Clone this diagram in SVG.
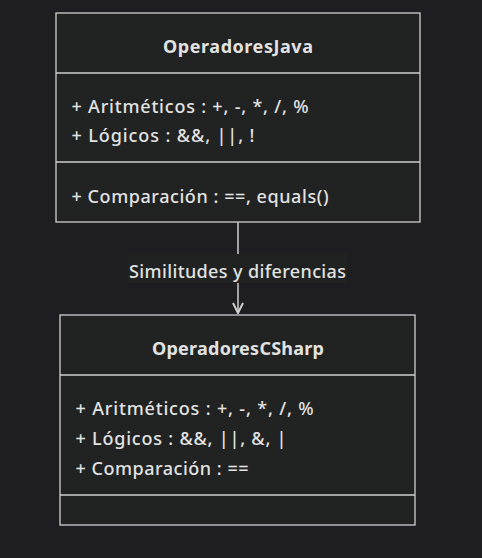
<svg xmlns="http://www.w3.org/2000/svg" width="482" height="558" viewBox="0 0 482 558">
  <style>
    .bg { fill: #1e1e22; }
    .box { fill: #212222; stroke: #cfcfcf; stroke-width: 1.3; }
    .div { stroke: #cfcfcf; stroke-width: 1.3; }
    text { font-family: "Noto Sans", "Open Sans", "DejaVu Sans", sans-serif; fill: #e2e2e2; font-size: 18px; font-weight: 500; }
    .title { font-weight: bold; text-anchor: middle; }
    .edge { stroke: #cfcfcf; stroke-width: 1.5; fill: none; }
    .lblbg { fill: #202221; }
  </style>
  <defs>
    <marker id="arrow" viewBox="0 0 12 12" refX="11" refY="6" markerWidth="12" markerHeight="12" markerUnits="userSpaceOnUse" orient="auto">
      <path d="M1,1 L11,6 L1,11" fill="none" stroke="#cfcfcf" stroke-width="2"/>
    </marker>
  </defs>
  <rect class="bg" x="0" y="0" width="482" height="558"/>

  <g id="connectors">
    <path class="edge" d="M238,222 L238,313" marker-end="url(#arrow)"/>
    <rect class="lblbg" x="128" y="254" width="219" height="29"/>
    <text x="129" y="278" textLength="217" lengthAdjust="spacing">Similitudes y diferencias</text>
  </g>

  <g id="OperadoresJava">
    <rect class="box" x="56" y="13" width="364" height="209"/>
    <line class="div" x1="56" y1="73" x2="420" y2="73"/>
    <line class="div" x1="56" y1="162" x2="420" y2="162"/>
    <text class="title" x="238" y="53" textLength="150" lengthAdjust="spacing">OperadoresJava</text>
    <text x="71.5" y="113" textLength="237" lengthAdjust="spacing">+ Aritméticos : +, -, *, /, %</text>
    <text x="71.5" y="142" textLength="183" lengthAdjust="spacing">+ Lógicos : &amp;&amp;, ||, !</text>
    <text x="71.5" y="203" textLength="257" lengthAdjust="spacing">+ Comparación : ==, equals()</text>
  </g>

  <g id="OperadoresCSharp">
    <rect class="box" x="60" y="315" width="355" height="210"/>
    <line class="div" x1="60" y1="375" x2="415" y2="375"/>
    <line class="div" x1="60" y1="495" x2="415" y2="495"/>
    <text class="title" x="238" y="355" textLength="172" lengthAdjust="spacing">OperadoresCSharp</text>
    <text x="75.5" y="415" textLength="238" lengthAdjust="spacing">+ Aritméticos : +, -, *, /, %</text>
    <text x="75.5" y="445" textLength="211" lengthAdjust="spacing">+ Lógicos : &amp;&amp;, ||, &amp;, |</text>
    <text x="75.5" y="475" textLength="173" lengthAdjust="spacing">+ Comparación : ==</text>
  </g>
</svg>
